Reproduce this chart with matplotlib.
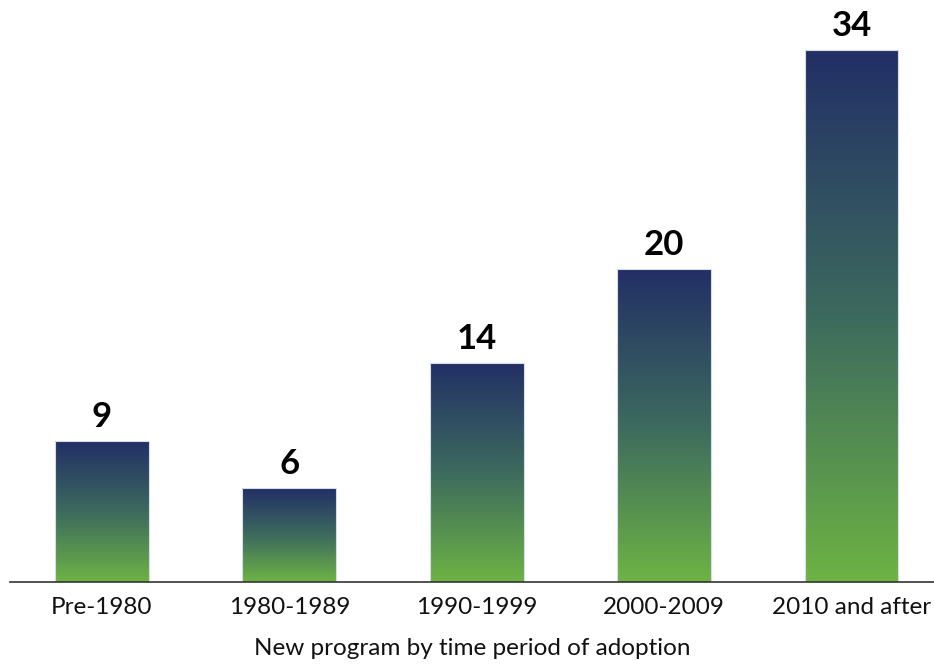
import numpy as np
import matplotlib.pyplot as plt
from matplotlib.colors import LinearSegmentedColormap

plt.rcParams['font.family'] = ['Lato', 'DejaVu Sans']

periods = ["Pre-1980", "1980-1989", "1990-1999", "2000-2009", "2010 and after"]
counts = [9, 6, 14, 20, 34]

grad = LinearSegmentedColormap.from_list("navy_green", ["#6db344", "#3d6a5e", "#222f66"])

fig = plt.figure(figsize=(9.34, 6.64), dpi=100)
ax = fig.add_axes([10 / 934, 82 / 664, 924 / 934, 582 / 664])

x = np.arange(len(periods))
bars = ax.bar(x, counts, width=0.5, color='none', edgecolor='#d8dce8', linewidth=0.8, zorder=3)

# gradient fill clipped to each bar, each bar has its own full gradient
g = np.linspace(0, 1, 256).reshape(-1, 1)
for b in bars:
    x0, y0 = b.get_x(), b.get_y()
    w, h = b.get_width(), b.get_height()
    im = ax.imshow(g, cmap=grad, aspect='auto', origin='lower',
                   extent=[x0, x0 + w, y0, y0 + h], zorder=2)
    im.set_clip_path(b)

for xi, v in zip(x, counts):
    ax.annotate(str(v), (xi, v), xytext=(0, 6), textcoords='offset points',
                ha='center', va='bottom', fontsize=25, fontweight='bold', color='black')

ax.set_xlim(-0.49, 4.44)
ax.set_ylim(0, 34 * 582 / 532)
ax.set_xticks(x)
ax.set_xticklabels(periods, fontsize=17.5, color='#111111')
ax.tick_params(axis='x', length=0, pad=11)
ax.set_yticks([])
ax.set_xlabel("New program by time period of adoption", fontsize=17.5, labelpad=14, color='#111111')

for s in ['top', 'right', 'left']:
    ax.spines[s].set_visible(False)
ax.spines['bottom'].set_color('#333333')
ax.spines['bottom'].set_linewidth(1.2)
ax.spines['bottom'].set_zorder(4)

fig.savefig("out.png", dpi=100)
